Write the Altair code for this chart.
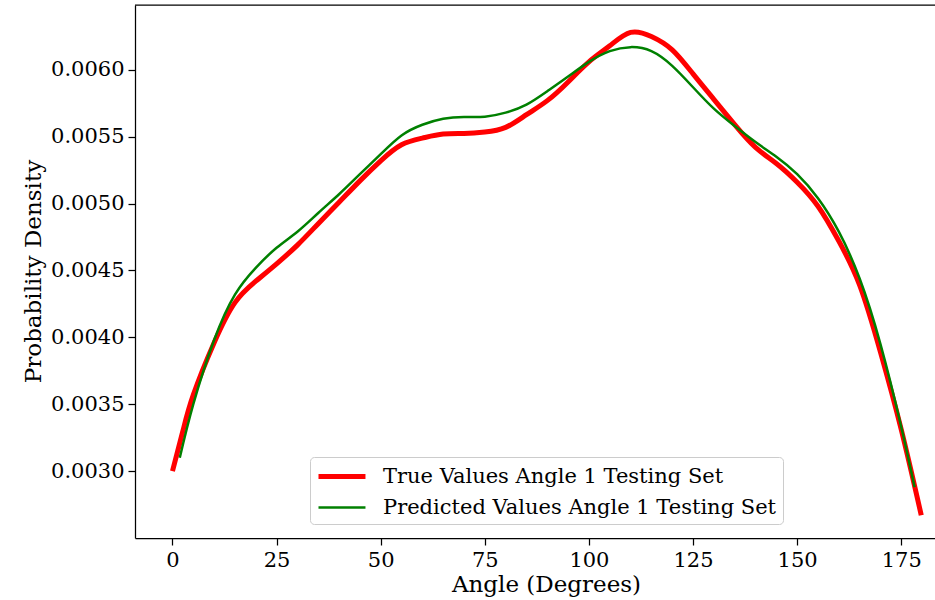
import altair as alt
import pandas as pd

series_names = ["True Values Angle 1 Testing Set", "Predicted Values Angle 1 Testing Set"]

true_x = [0, 2.5, 5, 10, 15, 20, 25, 30, 35, 40, 45, 50, 55, 60, 65, 70, 75, 80, 85,
          90, 95, 100, 105, 110, 115, 120, 125, 130, 135, 140, 145, 150, 155, 160,
          165, 170, 175, 179.8]
true_y = [0.00300, 0.00330, 0.00357, 0.00396, 0.00426, 0.00442, 0.00455, 0.00469,
          0.00485, 0.00501, 0.00517, 0.00532, 0.00544, 0.00549, 0.00552, 0.005525,
          0.005535, 0.00557, 0.005665, 0.00577, 0.00591, 0.00606, 0.00618, 0.00628,
          0.00625, 0.00615, 0.00597, 0.00578, 0.00559, 0.00542, 0.00530, 0.00516,
          0.00498, 0.00472, 0.00439, 0.00389, 0.00331, 0.00267]

pred_x = [1.75, 5, 10, 15, 20, 25, 30, 35, 40, 45, 50, 55, 60, 65, 70, 75, 80, 85,
          90, 95, 100, 105, 110, 115, 120, 125, 130, 135, 140, 145, 150, 155, 160,
          165, 170, 175, 178.2]
pred_y = [0.00310, 0.00350, 0.00398, 0.00432, 0.00452, 0.00467, 0.00479, 0.00493,
          0.00507, 0.00522, 0.00537, 0.00551, 0.00559, 0.005635, 0.005648, 0.00565,
          0.00568, 0.00574, 0.00584, 0.00595, 0.00606, 0.00614, 0.00617, 0.00614,
          0.00603, 0.00587, 0.00571, 0.00558, 0.00546, 0.00535, 0.00522, 0.00504,
          0.00479, 0.00444, 0.00395, 0.00333, 0.00288]

x_ticks = [0, 25, 50, 75, 100, 125, 150, 175]
y_ticks = [0.0030, 0.0035, 0.0040, 0.0045, 0.0050, 0.0055, 0.0060]

rows = []
for xv, yv in zip(true_x, true_y):
    rows.append({"angle": xv, "density": yv, "series": series_names[0]})
for xv, yv in zip(pred_x, pred_y):
    rows.append({"angle": xv, "density": yv, "series": series_names[1]})
df = pd.DataFrame(rows)

FONT = "DejaVu Serif"
W, H = 800, 533

legend_cfg = dict(
    title=None,
    orient="none",
    legendX=175,
    legendY=452,
    symbolType="M-1,0H3.27",
    symbolSize=484,
    labelFont=FONT,
    labelFontSize=21,
    labelColor="black",
    labelLimit=700,
    labelOffset=40,
    strokeColor="#cccccc",
    fillColor="white",
    cornerRadius=4,
    padding=6,
    rowPadding=8,
)

lines = alt.Chart(df).mark_line(interpolate="natural", strokeCap="butt").encode(
    x=alt.X(
        "angle:Q",
        scale=alt.Scale(domain=[-9, 183.1], nice=False, zero=False),
        axis=alt.Axis(values=x_ticks, title="Angle (Degrees)", titleX=411, titleY=53.5,
                      titleBaseline="alphabetic", titleAlign="center"),
    ),
    y=alt.Y(
        "density:Q",
        scale=alt.Scale(domain=[0.0025, 0.006485], nice=False, zero=False),
        axis=alt.Axis(values=y_ticks, format=".4f", title="Probability Density",
                      titleX=-102, titleY=266, titleAngle=-90, titleAlign="center",
                      titleBaseline="middle"),
    ),
    color=alt.Color("series:N", scale=alt.Scale(domain=series_names, range=["#ff0000", "#008000"]),
                    legend=alt.Legend(**legend_cfg)),
    strokeWidth=alt.StrokeWidth("series:N", scale=alt.Scale(domain=series_names, range=[5, 2.5]),
                                legend=alt.Legend(**legend_cfg)),
)

top_spine = alt.Chart(pd.DataFrame({"a": [0]})).mark_rule(color="black", strokeWidth=1.25).encode(
    x=alt.value(0), x2=alt.value(W), y=alt.value(0)
)

chart = alt.layer(lines, top_spine).properties(
    width=W, height=H,
    padding={"left": 135, "top": 5, "right": 0, "bottom": 62},
    autosize=alt.AutoSizeParams(type="none"),
).configure_view(stroke=None).configure_axis(
    grid=False,
    domainColor="black",
    domainWidth=1.25,
    tickColor="black",
    tickWidth=1.25,
    tickSize=7,
    labelFont=FONT,
    labelFontSize=21,
    labelColor="black",
    labelPadding=4,
    titleFont=FONT,
    titleFontSize=23,
    titleFontWeight="normal",
    titleColor="black",
)

chart.save("out.html", embed_options={"renderer": "svg", "actions": False})
